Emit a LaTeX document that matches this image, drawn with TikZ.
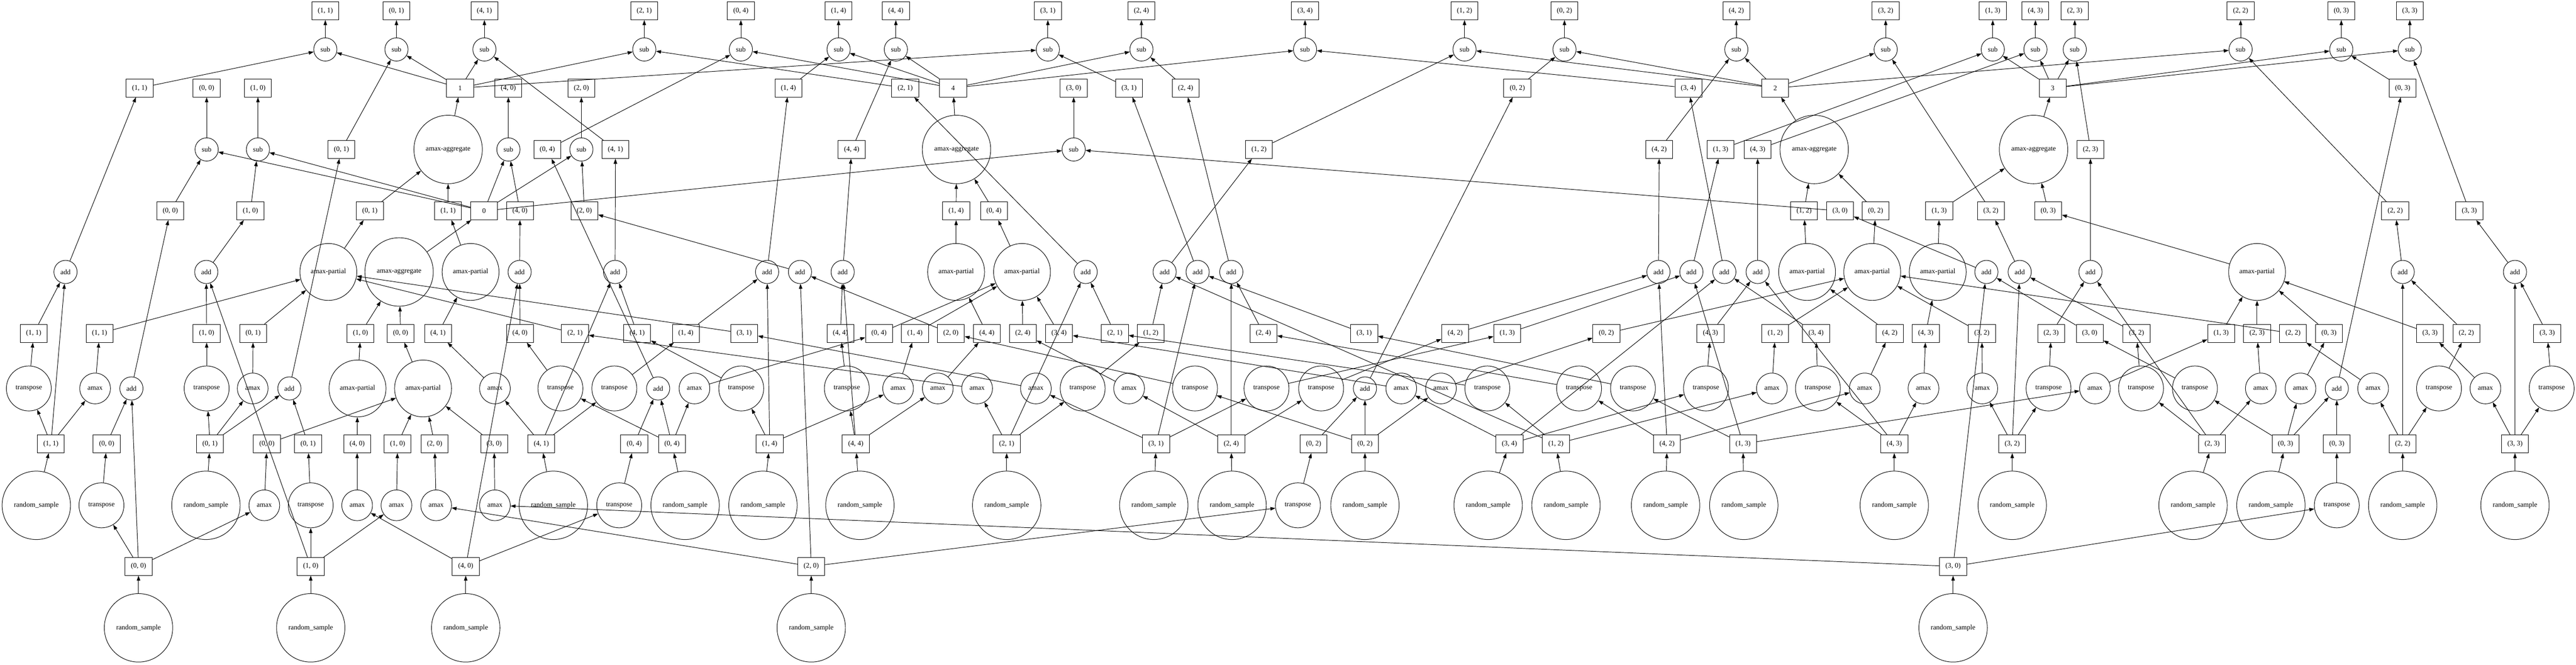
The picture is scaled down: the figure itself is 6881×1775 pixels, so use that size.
\documentclass[tikz,border=0pt]{standalone}
\usepackage{fontspec}
\setmainfont{Liberation Serif}
\usetikzlibrary{arrows.meta}
\begin{document}
\begin{tikzpicture}[x=0.75pt, y=-0.75pt, line width=1pt,
    every node/.style={draw, line width=1pt, inner sep=0pt, font=\fontsize{14}{17}\selectfont},
    keybox/.style={rectangle, minimum width=54pt, minimum height=36pt},
    smallop/.style={circle, minimum size=46.5pt},
    amaxop/.style={circle, minimum size=61.5pt},
    transop/.style={circle, minimum size=90pt},
    partop/.style={circle, minimum size=114pt},
    bigop/.style={circle, minimum size=137pt},
    arr/.style={-{Triangle[length=10pt, width=7pt]}}]
    \useasboundingbox (0,0) rectangle (6881,1775);
    \foreach \i/\j/\x in {1/1/869, 0/1/1059, 4/1/1294, 2/1/1721, 0/4/1979, 1/4/2240, 4/4/2393, 3/1/2799, 2/4/3049, 3/4/3486, 1/2/3912, 0/2/4179, 4/2/4638, 3/2/5037, 1/3/5323, 4/3/5437, 2/3/5542, 2/2/5985, 0/3/6254, 3/3/6437} {
        \node[keybox] (s\i\j) at (\x,29) {(\i, \j)};
        \node[smallop] (sb\i\j) at (\x,132) {sub};
    }
    \foreach \i/\j/\x in {0/0/552, 1/0/689, 4/0/1358, 2/0/1553, 3/0/2868} {
        \node[keybox] (s\i\j) at (\x,235) {(\i, \j)};
        \node[smallop] (sb\i\j) at (\x,399) {sub};
    }
    \foreach \i/\j/\x in {1/1/373, 1/4/2106, 2/1/2418, 3/1/3016, 2/4/3167, 0/2/4053, 3/4/4510, 0/3/6418}
        \node[keybox] (a\i\j) at (\x,235) {(\i, \j)};
    \foreach \i/\j/\x in {0/1/912, 0/4/1462, 4/1/1644, 4/4/2275, 1/2/3363, 4/2/4432, 1/3/4596, 4/3/4695, 2/3/5584}
        \node[keybox] (a\i\j) at (\x,399) {(\i, \j)};
    \foreach \i/\j/\x in {0/0/455, 1/0/669, 4/0/1389, 2/0/1561, 3/0/4915, 3/2/5318, 2/2/6398, 3/3/6596}
        \node[keybox] (a\i\j) at (\x,563) {(\i, \j)};
    \foreach \i/\j/\x in {1/1/175, 1/0/551, 4/0/1388, 4/1/1643, 1/4/2049, 2/0/2137, 4/4/2251, 2/1/2900, 1/2/3111, 3/1/3199, 2/4/3289, 4/2/4430, 1/3/4518, 3/4/4606, 4/3/4695, 3/0/5306, 3/2/5395, 2/3/5584, 2/2/6418, 3/3/6718}
        \node[smallop] (ad\i\j) at (\x,726) {add};
    \foreach \i/\j/\x in {0/0/351, 0/1/773, 0/4/1758, 0/2/3646, 0/3/6242}
        \node[smallop] (ad\i\j) at (\x,1037) {add};
    \node[keybox] (g0) at (1293,563) {0};
    \node[keybox] (g1) at (1229,235) {1};
    \node[keybox] (g2) at (4742,235) {2};
    \node[keybox] (g3) at (5483,235) {3};
    \node[keybox] (g4) at (2546,235) {4};
    \node[bigop] (ag0) at (1066,726) {amax-aggregate};
    \node[bigop] (ag1) at (1197,399) {amax-aggregate};
    \node[bigop] (ag2) at (4846,399) {amax-aggregate};
    \node[bigop] (ag3) at (5432,399) {amax-aggregate};
    \node[bigop] (ag4) at (2555,399) {amax-aggregate};
    \foreach \k/\j/\x in {0/1/988, 1/1/1197, 1/4/2554, 0/4/2655, 1/2/4819, 0/2/5010, 1/3/5180, 0/3/5471}
        \node[keybox] (p\k\j) at (\x,563) {(\k, \j)};
    \foreach \k/\j/\x in {1/0/963, 0/0/1070}
        \node[keybox] (p\k\j) at (\x,890) {(\k, \j)};
    \foreach \k/\j/\x in {0/1/877, 1/1/1257, 1/4/2554, 0/4/2730, 1/2/4827, 0/2/5001, 1/3/5176, 0/3/6029}
        \node[partop] (pp\k\j) at (\x,726) {amax-partial};
    \foreach \k/\j/\x in {1/0/955, 0/0/1130}
        \node[partop] (pp\k\j) at (\x,1037) {amax-partial};
    \foreach \i/\j/\x in {1/1/266, 0/1/676, 4/1/1170, 2/1/1536, 3/1/1988, 0/4/2348, 1/4/2444, 4/4/2636, 2/4/2732, 3/4/2829, 0/2/4291, 1/2/4742, 4/2/5048, 4/3/5144, 3/2/5294, 1/3/5933, 2/3/6029, 2/2/6125, 0/3/6221, 3/3/6491}
        \node[keybox] (m\i\j) at (\x,890) {(\i, \j)};
    \foreach \i/\j/\x in {0/0/713, 4/0/954, 1/0/1062, 2/0/1161, 3/0/1320}
        \node[keybox] (m\i\j) at (\x,1185) {(\i, \j)};
    \foreach \i/\j/\x in {1/1/254, 0/1/675, 4/1/1322, 0/4/1855, 1/4/2399, 4/4/2505, 2/1/2610, 3/1/2767, 2/4/3016, 3/4/3743, 0/2/3849, 1/2/4733, 4/2/4981, 4/3/5138, 3/2/5295, 1/3/5596, 2/3/6039, 0/3/6145, 2/2/6339, 3/3/6639}
        \node[amaxop] (mx\i\j) at (\x,1037) {amax};
    \foreach \i/\j/\x in {0/0/706, 4/0/954, 1/0/1059, 2/0/1165, 3/0/1322}
        \node[amaxop] (mx\i\j) at (\x,1349) {amax};
    \foreach \i/\j/\x in {1/1/90, 1/0/552, 4/0/1389, 4/1/1702, 1/4/1832, 4/4/2245, 2/0/2540, 2/1/2978, 1/2/3074, 2/4/3375, 3/1/3644, 4/2/3887, 1/3/4026, 4/3/4569, 3/4/4851, 2/3/5479, 3/0/5582, 3/2/5707, 2/2/6588, 3/3/6804}
        \node[keybox] (t\i\j) at (\x,890) {(\i, \j)};
    \foreach \i/\j/\x in {0/0/285, 0/1/823, 0/4/1694, 0/2/3509, 0/3/6242}
        \node[keybox] (t\i\j) at (\x,1185) {(\i, \j)};
    \foreach \i/\j/\x in {1/1/77, 0/1/552, 0/4/1497, 4/1/1641, 1/4/1980, 4/4/2262, 2/1/2892, 0/2/3192, 3/1/3383, 2/4/3529, 1/2/3973, 4/2/4218, 1/3/4362, 3/4/4557, 4/3/4856, 3/2/5472, 2/3/5719, 0/3/5863, 2/2/6515, 3/3/6816}
        \node[transop] (tr\i\j) at (\x,1037) {transpose};
    \foreach \i/\j/\x in {0/0/271, 1/0/830, 4/0/1654, 2/0/3467, 3/0/6242}
        \node[transop] (tr\i\j) at (\x,1349) {transpose};
    \foreach \i/\j/\x/\rx in {1/1/136/97, 0/1/561/550, 4/1/1446/1478, 0/4/1795/1830, 1/4/2056/2038, 4/4/2286/2297, 2/1/2689/2689, 3/1/3088/3082, 2/4/3289/3291, 0/2/3646/3646, 3/4/4032/3975, 1/2/4156/4183, 4/2/4453/4449, 1/3/4656/4658, 4/3/5060/5060, 3/2/5375/5375, 2/3/5909/5858, 0/3/6105/6066, 2/2/6418/6418, 3/3/6718/6718} {
        \node[keybox] (x\i\j) at (\x,1185) {(\i, \j)};
        \node[bigop] (r\i\j) at (\rx,1349) {random\_sample};
    }
    \foreach \i/\j/\x in {0/0/370, 1/0/830, 4/0/1244, 2/0/2167, 3/0/5217} {
        \node[keybox] (x\i\j) at (\x,1512) {(\i, \j)};
        \node[bigop] (r\i\j) at (\x,1676) {random\_sample};
    }
    \foreach \i in {0,...,4} {
        \foreach \j in {0,...,4} {
            \pgfmathtruncatemacro\grp{\i>3}
            \draw[arr] (r\i\j) -- (x\i\j);
            \draw[arr] (x\i\j) -- (tr\i\j);
            \draw[arr] (tr\i\j) -- (t\j\i);
            \draw[arr] (x\i\j) -- (ad\i\j);
            \draw[arr] (t\i\j) -- (ad\i\j);
            \draw[arr] (ad\i\j) -- (a\i\j);
            \draw[arr] (x\i\j) -- (mx\i\j);
            \draw[arr] (mx\i\j) -- (m\i\j);
            \draw[arr] (m\i\j) -- (pp\grp\j);
            \draw[arr] (a\i\j) -- (sb\i\j);
            \draw[arr] (g\j) -- (sb\i\j);
            \draw[arr] (sb\i\j) -- (s\i\j);
        }
    }
    \foreach \j in {0,...,4} {
        \draw[arr] (pp0\j) -- (p0\j);
        \draw[arr] (pp1\j) -- (p1\j);
        \draw[arr] (p0\j) -- (ag\j);
        \draw[arr] (p1\j) -- (ag\j);
        \draw[arr] (ag\j) -- (g\j);
    }
\end{tikzpicture}
\end{document}
